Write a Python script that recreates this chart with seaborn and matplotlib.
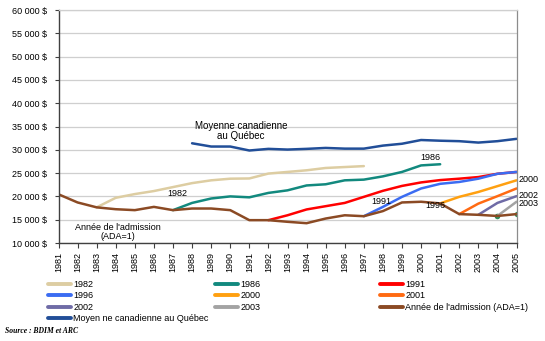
import numpy as np
import pandas as pd
import matplotlib
matplotlib.use("Agg")
import matplotlib.pyplot as plt
from matplotlib.lines import Line2D
import seaborn as sns

sns.set_theme(style="white")
plt.rcParams['font.family'] = ['Liberation Sans', 'DejaVu Sans']
plt.rcParams['text.color'] = 'black'
plt.rcParams['xtick.color'] = 'black'
plt.rcParams['ytick.color'] = 'black'

nan = np.nan
years = list(range(1981, 2006))

s1982 = [nan, nan, 17650, 19700, 20500, 21150, 22000, 22850, 23450, 23800, 23850, 24900, 25250,
         25600, 26100, 26300, 26500, nan, nan, nan, nan, nan, nan, nan, nan]
s1986 = [nan] * 6 + [17050, 18600, 19550, 20000, 19800, 20750, 21300, 22350, 22600, 23450, 23600,
                     24300, 25250, 26650, 26900, nan, nan, nan, nan]
s1991 = [nan] * 11 + [14900, 15950, 17200, 17900, 18600, 19900, 21200, 22250, 23000, 23500, 23800,
                      24150, 24850, 25250]
s1996 = [nan] * 16 + [15750, 17750, 19900, 21700, 22700, 23100, 23800, 24850, 25250]
s2000 = [nan] * 20 + [18500, 19900, 20950, 22200, 23450]
s2001 = [nan] * 21 + [16200, 18450, 20050, 21700]
s2002 = [nan] * 22 + [16050, 18600, 20050]
s2003 = [nan] * 23 + [15800, 18850]
s2004 = [nan] * 23 + [15800, 16200]
ada = [20450, 18700, 17650, 17250, 17050, 17750, 17050, 17400, 17400, 17050, 14900, 14900, 14550,
       14250, 15250, 15950, 15750, 16850, 18700, 18850, 18500, 16200, 16050, 15800, 16200]
moyenne = [nan] * 7 + [31400, 30700, 30700, 29850, 30200, 30050, 30200, 30400, 30250, 30250, 30900,
                       31300, 32100, 31950, 31850, 31550, 31850, 32350]

series_names = ["1982", "1986", "1991", "1996", "2000", "2001", "2002", "2003",
                "Année de l'admission (ADA=1)", "Moyenne canadienne au Québec"]
series_values = [s1982, s1986, s1991, s1996, s2000, s2001, s2002, s2003, ada, moyenne]
colors = ["#DDCDA2", "#12897E", "#FF0000", "#3B6CF2", "#FFA010", "#FF6A12",
          "#6F6BA6", "#A3A3A3", "#8B4A24", "#214E98"]
legend_labels = ["1982", "1986", "1991", "1996", "2000", "2001", "2002", "2003",
                 "Année de l'admission (ADA=1)", "Moyen ne canadienne au Québec"]

yticks = list(range(10000, 60001, 5000))

rows = []
for name, vals in zip(series_names, series_values):
    for y, v in zip(years, vals):
        if not np.isnan(v):
            rows.append({"year": y, "value": v, "series": name})
df = pd.DataFrame(rows)

W, H = 545, 341
fig = plt.figure(figsize=(W / 100, H / 100), dpi=100)
ax = fig.add_axes([58.5 / W, 1 - 243 / H, (516.5 - 58.5) / W, (243 - 10) / H])

palette = dict(zip(series_names, colors))
sns.lineplot(data=df, x="year", y="value", hue="series", hue_order=series_names,
             palette=palette, linewidth=1.8, legend=False, ax=ax, sort=True)

df04 = pd.DataFrame({"year": years, "value": s2004}).dropna()
sns.lineplot(data=df04, x="year", y="value", color="#2E8B57", linewidth=0, marker="o",
             markersize=4, markeredgewidth=0, ax=ax, legend=False, zorder=1)

ax.set_xlim(1981, 2005)
ax.set_ylim(10000, 60000)
ax.set_xticks(years)
ax.set_xticklabels([str(y) for y in years], rotation=90, fontsize=6.5, va="top")
ax.set_yticks(yticks)
ax.set_yticklabels([f"{v:,}".replace(",", " ") + " $" for v in yticks], fontsize=6.5)
ax.tick_params(axis="y", length=3, width=0.8, pad=5.5, color="#404040", direction="out", left=True)
ax.tick_params(axis="x", length=3.5, width=0.8, pad=3, color="#404040", direction="out", bottom=True)
ax.set_xlabel("")
ax.set_ylabel("")
ax.grid(axis="y", color="#CFCFCF", linewidth=0.9)
ax.grid(axis="x", visible=False)
ax.set_axisbelow(True)
for side in ["left", "bottom"]:
    ax.spines[side].set_color("#404040")
    ax.spines[side].set_linewidth(1.0)
ax.spines["right"].set_color("#8C8C8C")
ax.spines["right"].set_linewidth(0.9)
ax.spines["top"].set_color("#CFCFCF")
ax.spines["top"].set_linewidth(0.9)

# Annotations
def px(x, y):
    return (x / W, 1 - y / H)

fs = 6.5
fig.text(*px(241, 131), "Moyenne canadienne\nau Québec", fontsize=7, ha="center", va="center",
         linespacing=1.05)
fig.text(*px(177, 193), "1982", fontsize=fs, ha="center", va="center")
fig.text(*px(118, 232), "Année de l'admission\n(ADA=1)", fontsize=fs, ha="center", va="center",
         linespacing=1.05)
fig.text(*px(430, 157), "1986", fontsize=fs, ha="center", va="center")
fig.text(*px(381, 202), "1991", fontsize=fs, ha="center", va="center")
fig.text(*px(435, 206), "1996", fontsize=fs, ha="center", va="center")
fig.text(*px(519, 180), "2000", fontsize=fs, ha="left", va="center")
fig.text(*px(519, 195), "2002", fontsize=fs, ha="left", va="center")
fig.text(*px(519, 203), "2003", fontsize=fs, ha="left", va="center")

# Legends (three columns)
handles = {n: Line2D([], [], color=c, linewidth=2.8, solid_capstyle="round")
           for n, c in zip(series_names, colors)}
lab = dict(zip(series_names, legend_labels))
columns = [
    (48, ["1982", "1996", "2002", "Moyenne canadienne au Québec"]),
    (215, ["1986", "2000", "2003"]),
    (380, ["1991", "2001", "Année de l'admission (ADA=1)"]),
]
for xpos, names in columns:
    leg = fig.legend([handles[n] for n in names], [lab[n] for n in names],
                     loc="upper left", bbox_to_anchor=px(xpos, 280), frameon=False,
                     fontsize=fs, handlelength=2.6, handletextpad=0.2, borderpad=0,
                     borderaxespad=0, labelspacing=0.27)

fig.text(*px(5, 331), "Source : BDIM et ARC", fontsize=5.5, style="italic", weight="bold",
         family=["Liberation Serif", "DejaVu Serif"], ha="left", va="center")

fig.savefig("out.png", dpi=100)
